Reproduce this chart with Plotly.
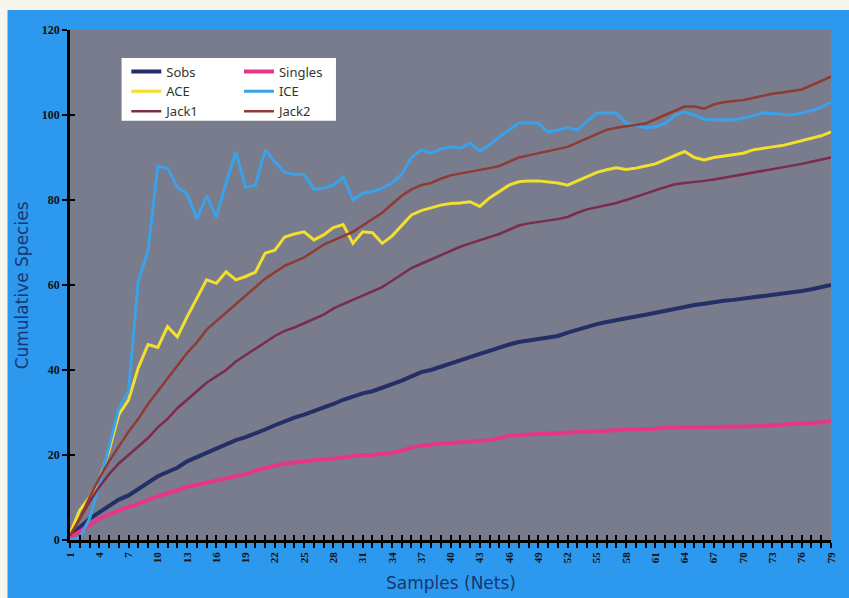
import plotly.graph_objects as go

# Sample index (nets 1..79)
samples = list(range(1, 80))

sobs = [1, 3, 5, 6.5, 8, 9.5, 10.5, 12, 13.5, 15, 16, 17, 18.5, 19.5, 20.5, 21.5, 22.5, 23.5, 24.2, 25,
        26, 27, 28, 28.8, 29.5, 30.3, 31, 32, 33, 33.8, 34.5, 35, 35.8, 36.5, 37.5, 38.5, 39.5, 40, 40.8, 41.5,
        42.2, 43, 43.8, 44.5, 45.3, 46, 46.6, 47, 47.3, 47.6, 48, 48.8, 49.5, 50, 50.8, 51.3, 51.8, 52.2, 52.6, 53,
        53.5, 54, 54.5, 55, 55.3, 55.6, 56, 56.3, 56.5, 56.8, 57, 57.2, 57.5, 57.8, 58.2, 58.6, 59, 59.5, 60]

singles = [0.5, 2, 3.5, 5, 6, 7, 7.8, 8.5, 9.5, 10.3, 11, 11.8, 12.5, 13, 13.5, 14, 14.5, 15, 15.5, 16.3,
           17, 17.5, 18, 18.3, 18.5, 18.7, 19, 19.2, 19.5, 19.8, 20, 20, 20.2, 20.5, 21, 21.8, 22.2, 22.5, 22.7, 22.8,
           23, 23, 23.2, 23.5, 24, 24.5, 24.7, 24.8, 24.8, 25, 25, 25.1, 25.2, 25.4, 25.5, 25.7, 25.8, 26, 26, 26.1,
           26.2, 26.4, 26.5, 26.6, 26.6, 26.6, 26.6, 26.6, 26.6, 26.7, 26.8, 26.8, 27, 27.1, 27.2, 27.3, 27.5, 27.7, 28]

ace = [1.5, 7, 10, 14, 21, 29.5, 33, 40.5, 46, 45.3, 50.2, 47.8, 52.5, 57, 61.2, 60.4, 63.1, 61.2, 62, 63,
       67.5, 68.2, 71.3, 72, 72.5, 70.6, 71.8, 73.5, 74.2, 69.8, 72.5, 72.3, 69.8, 71.5, 74, 76.5, 77.5, 78.2, 78.8, 79.2,
       79.3, 79.6, 78.5, 80.5, 82, 83.5, 84.3, 84.5, 84.5, 84.2, 84, 83.5, 84.5, 85.5, 86.5, 87.1, 87.6, 87.2, 87.5, 88,
       88.5, 89.5, 90.5, 91.4, 90, 89.4, 90, 90.3, 90.6, 91, 91.8, 92.2, 92.5, 92.8, 93.4, 93.9, 94.5, 95.1, 96]

ice = [0, 0.5, 5, 13, 22, 31, 35, 61, 68, 88, 87.5, 83, 81.5, 75.5, 81, 76, 84, 91.3, 83, 83.5,
       91.8, 89, 86.5, 86, 86, 82.5, 82.8, 83.5, 85.4, 80, 81.6, 82, 82.8, 84, 86, 90, 91.8, 91, 92, 92.5,
       92.2, 93.4, 91.5, 93, 94.8, 96.5, 98.1, 98.2, 98.1, 96, 96.5, 97, 96.5, 98.5, 100.5, 100.5, 100.5, 98.1, 97.5, 97,
       97.2, 98, 100, 100.7, 100, 99, 98.8, 98.8, 98.8, 99.3, 99.8, 100.5, 100.3, 100.2, 100, 100.5, 101, 101.8, 103]

jack1 = [1, 5, 9, 12.5, 15.5, 18, 20, 22, 24, 26.5, 28.5, 31, 33, 35, 37, 38.5, 40, 42, 43.5, 45,
         46.5, 48, 49.2, 50, 51, 52, 53, 54.5, 55.5, 56.5, 57.5, 58.5, 59.5, 61, 62.5, 64, 65, 66, 67, 68,
         69, 69.8, 70.5, 71.3, 72, 73, 74, 74.5, 74.8, 75.2, 75.5, 76, 77, 77.8, 78.3, 78.8, 79.3, 80, 80.7, 81.5,
         82.3, 83, 83.7, 84, 84.2, 84.5, 84.8, 85.2, 85.6, 86, 86.4, 86.8, 87.2, 87.6, 88, 88.5, 89, 89.5, 90]

jack2 = [1, 5, 10, 14.5, 18.5, 22, 25.5, 28.5, 32, 35, 38, 41, 44, 46.5, 49.5, 51.5, 53.5, 55.5, 57.5, 59.5,
         61.5, 63, 64.5, 65.5, 66.5, 68, 69.5, 70.5, 71.5, 72.5, 74, 75.5, 77, 79, 81, 82.5, 83.5, 84, 85, 85.8,
         86.2, 86.6, 87, 87.5, 88, 89, 90, 90.5, 91, 91.5, 92, 92.5, 93.5, 94.5, 95.5, 96.5, 97, 97.3, 97.6, 98,
         99, 100, 101, 102, 102, 101.5, 102.5, 103, 103.3, 103.5, 104, 104.5, 105, 105.3, 105.6, 106, 107, 108, 109]

y_ticks = [0, 20, 40, 60, 80, 100, 120]
tick_labels = [str(s) if (s - 1) % 3 == 0 else "" for s in samples]

BLUE_BG = "#2c99ef"
PLOT_BG = "#787c8c"
SERIF = "Liberation Serif, Times New Roman, serif"
SANS = "DejaVu Sans, Noto Sans, sans-serif"
TITLE_COLOR = "#1a3570"

fig = go.Figure()

series = [
    ("Sobs", sobs, "#232f66", 4, "legend"),
    ("Singles", singles, "#e8358a", 4, "legend2"),
    ("ACE", ace, "#f2df2e", 3, "legend"),
    ("ICE", ice, "#3ba1e8", 3, "legend2"),
    ("Jack1", jack1, "#7b2c4c", 2.5, "legend"),
    ("Jack2", jack2, "#8f3a33", 2.5, "legend2"),
]
for name, vals, color, width, leg in series:
    fig.add_trace(go.Scatter(
        x=samples, y=vals, name=name, mode="lines",
        line=dict(color=color, width=width),
        legend=leg,
    ))

# invisible trace so the overlay axes (inner tick marks) get drawn
fig.add_trace(go.Scatter(x=[None], y=[None], xaxis="x2", yaxis="y2",
                         showlegend=False, hoverinfo="skip"))

axis_common = dict(showgrid=False, zeroline=False, linecolor="black",
                   tickcolor="black", ticklen=5, tickwidth=1.5)
legend_font = dict(family="Noto Sans, DejaVu Sans, sans-serif", size=13, color="#333")

fig.update_layout(
    width=849, height=598,
    margin=dict(l=70, r=12, t=30, b=58),
    paper_bgcolor=BLUE_BG,
    plot_bgcolor=PLOT_BG,
    xaxis=dict(range=[1, 79], tickmode="array", tickvals=samples, ticktext=tick_labels,
               ticks="outside", showline=True, linewidth=2.5, tickangle=-90,
               tickfont=dict(family=SERIF, size=11, color="#111", weight="bold"), **axis_common),
    yaxis=dict(range=[0, 120], tickmode="array", tickvals=y_ticks,
               ticks="outside", showline=True, linewidth=2.5,
               tickfont=dict(family=SERIF, size=12, color="#111", weight="bold"), **axis_common),
    xaxis2=dict(range=[1, 79], overlaying="x", tickmode="array", tickvals=samples,
                ticks="inside", showticklabels=False, showline=False, **axis_common),
    yaxis2=dict(range=[0, 120], overlaying="y", tickmode="array", tickvals=y_ticks,
                ticks="inside", showticklabels=False, showline=False, **axis_common),
    legend=dict(x=0.074, y=0.948, xanchor="left", yanchor="top", bgcolor="rgba(0,0,0,0)",
                font=legend_font, tracegroupgap=0, itemwidth=30),
    legend2=dict(x=0.222, y=0.948, xanchor="left", yanchor="top", bgcolor="rgba(0,0,0,0)",
                 font=legend_font, tracegroupgap=0, itemwidth=30),
    shapes=[
        # cream strips along the top and left edge of the page
        dict(type="rect", xref="paper", yref="paper", x0=-0.12, x1=1.05, y0=1.039, y1=1.08,
             fillcolor="#f7f5ec", line=dict(width=0), layer="below"),
        dict(type="rect", xref="paper", yref="paper", x0=-0.12, x1=-0.0821, y0=-0.15, y1=1.08,
             fillcolor="#f7f5ec", line=dict(width=0), layer="below"),
        # white legend panel
        dict(type="rect", xref="paper", yref="paper", x0=0.0678, x1=0.3495, y0=0.822, y1=0.945,
             fillcolor="white", line=dict(width=0), layer="above"),
    ],
    annotations=[
        dict(text="Cumulative Species", xref="paper", yref="paper", x=-0.0626, y=0.5,
             xanchor="center", yanchor="middle",
             textangle=-90, showarrow=False, font=dict(family=SANS, size=17, color=TITLE_COLOR)),
        dict(text="Samples (Nets)", xref="paper", yref="paper", x=0.5, y=-0.0843,
             xanchor="center", yanchor="middle",
             showarrow=False, font=dict(family=SANS, size=17, color=TITLE_COLOR)),
    ],
    showlegend=True,
)

fig.write_html("out.html")
